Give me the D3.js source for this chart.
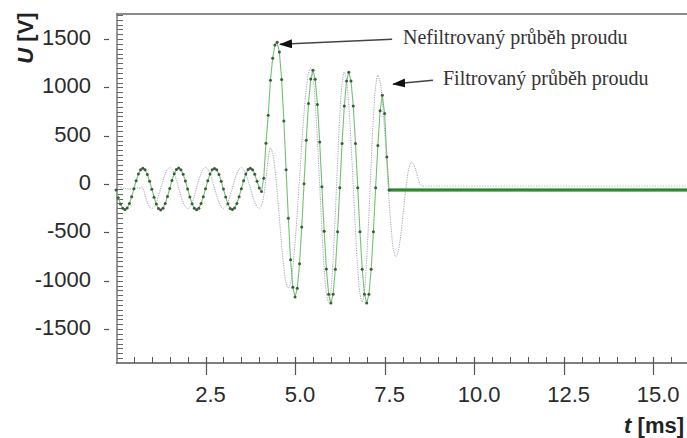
<!DOCTYPE html>
<html>
<head>
<meta charset="utf-8">
<script src="https://cdn.jsdelivr.net/npm/d3@7"></script>
<style>
body { margin: 0; background: #fff; }
svg { display: block; font-family: "Liberation Sans", Arial, sans-serif; }
</style>
</head>
<body>
<svg id="chart" width="687" height="438"></svg>
<script>
// sampling step of both records [ms]
var dt = 0.0625;

// unfiltered record (green, with sample markers), starts at t = 0
var unfiltered = [
  -60, -140, -205, -250, -262, -246, -200, -130, -48, 35, 104, 150, 165, 148, 100, 30,
  -52, -135, -205, -252, -268, -250, -200, -128, -45, 38, 108, 152, 166, 150, 103, 33,
  -50, -133, -203, -250, -264, -248, -201, -130, -48, 34, 104, 150, 163, 148, 101, 31,
  -51, -134, -204, -251, -262, -247, -200, -131, -47, 36, 105, 151, 164, 149, 102, 30,
  -40, -75, 62, 424, 713, 1074, 1302, 1440, 1467,
  1367, 1082, 653, 150, -353, -782, -1067, -1167,
  -1078, -824, -444, 5, 454, 834, 1088, 1178,
  1086, 825, 435, -26, -487, -877, -1138, -1230,
  -1139, -880, -493, -36, 421, 808, 1067, 1158,
  1067, 808, 421, -36, -493, -880, -1139, -1230,
  -1139, -880, -493, -36, 400, 760, 920, 730, 280, -60
];
// flat level after the breaker opened, held until the end of the record
var unfilteredTail = [-60, -60];

// filtered record (grey dotted), same time step
var filtered = [
  -10, -20, -30, -40, -45, -50, -50, -50, -45, -40, -40, -40, -40, -120, -188, -234,
  -250, -234, -188, -120, -40, 40, 108, 154, 170, 154, 108, 40, -40, -120, -188, -234,
  -252, -236, -190, -121, -40, 42, 110, 156, 172, 155, 108, 40, -41, -121, -189, -235,
  -250, -233, -187, -119, -39, 41, 109, 155, 171, 154, 107, 39, -40, -120, -188, -234,
  -250, -220, -120, 60, 260, 372, 317, 161, -75, -352, -628, -864, -1020, -1075,
  -1020, -859, -606, -290, 63, 415, 731, 984, 1145, 1200,
  1108, 847, 452, -10, -472, -867, -1128, -1220,
  -1101, -773, -294, 234, 713, 1041, 1160,
  1070, 813, 425, -30, -485, -873, -1130, -1220,
  -1103, -779, -307, 213, 685, 1009, 1126,
  1055, 852, 546, 188, -170, -476, -679, -750,
  -701, -566, -370, -153, 43, 178, 227,
  203, 138, 59, -6, -20
];
var filteredTail = [-20, -20];
var recordEnd = 16;

var yTicks = [-1500, -1000, -500, 0, 500, 1000, 1500];
var yTickLabels = ["-1500", "-1000", "-500", "0", "500", "1000", "1500"];
var xTicks = [2.5, 5.0, 7.5, 10.0, 12.5, 15.0];
var xTickLabels = ["2.5", "5.0", "7.5", "10.0", "12.5", "15.0"];
var notes = ["Nefiltrovaný průběh proudu", "Filtrovaný průběh proudu"];

function drawChart() {
    var svg = d3.select("#chart");

    var plotLeft = 116, plotRight = 689, plotTop = 14, plotBottom = 363;

    var x = d3.scaleLinear().domain([0, 16]).range([plotLeft, plotRight]);
    var y = d3.scaleLinear().domain([-1850, 1760]).range([plotBottom, plotTop]);

    // frame: top line, left axis, bottom axis
    svg.append("line").attr("x1", plotLeft).attr("x2", 687).attr("y1", plotTop).attr("y2", plotTop)
        .style("stroke", "#8c8c8c").style("stroke-width", 2);
    svg.append("line").attr("x1", plotLeft + 1).attr("x2", plotLeft + 1).attr("y1", plotTop).attr("y2", plotBottom)
        .style("stroke", "#777").style("stroke-width", 1.5);
    svg.append("line").attr("x1", plotLeft).attr("x2", 687).attr("y1", plotBottom).attr("y2", plotBottom)
        .style("stroke", "#555").style("stroke-width", 1.5);

    // y minor ticks, pointing inside
    var yMinor = d3.range(-1800, 1751, 50);
    svg.append("g").selectAll("line").data(yMinor).enter().append("line")
        .attr("x1", plotLeft + 1).attr("x2", plotLeft + 7)
        .attr("y1", function(d) { return Math.round(y(d)) + 0.5; })
        .attr("y2", function(d) { return Math.round(y(d)) + 0.5; })
        .style("stroke", "#666").style("stroke-width", 1);

    // y major ticks sit a bit off the axis, with labels
    svg.append("g").selectAll("line").data(yTicks).enter().append("line")
        .attr("x1", 104).attr("x2", 109)
        .attr("y1", function(d) { return Math.round(y(d)) + 0.5; })
        .attr("y2", function(d) { return Math.round(y(d)) + 0.5; })
        .style("stroke", "#555").style("stroke-width", 1.2);
    svg.append("g").selectAll("text").data(yTicks).enter().append("text")
        .text(function(d, i) { return yTickLabels[i]; })
        .attr("x", 91)
        .attr("y", function(d) { return y(d) + 6; })
        .attr("text-anchor", "end")
        .style("font-size", "22px").style("fill", "#2a2a2a");

    // x minor ticks, pointing inside
    var xMinor = d3.range(0.5, 16, 0.5);
    svg.append("g").selectAll("line").data(xMinor).enter().append("line")
        .attr("x1", function(d) { return Math.round(x(d)) + 0.5; })
        .attr("x2", function(d) { return Math.round(x(d)) + 0.5; })
        .attr("y1", plotBottom - 6).attr("y2", plotBottom)
        .style("stroke", "#555").style("stroke-width", 1);
    // x major ticks cross the axis
    svg.append("g").selectAll("line").data(xTicks).enter().append("line")
        .attr("x1", function(d) { return Math.round(x(d)) + 0.5; })
        .attr("x2", function(d) { return Math.round(x(d)) + 0.5; })
        .attr("y1", plotBottom - 6).attr("y2", plotBottom + 12)
        .style("stroke", "#555").style("stroke-width", 1.2);
    svg.append("g").selectAll("text").data(xTicks).enter().append("text")
        .text(function(d, i) { return xTickLabels[i]; })
        .attr("x", function(d) { return x(d) + 5; })
        .attr("y", 402)
        .attr("text-anchor", "middle")
        .style("font-size", "22px").style("fill", "#2a2a2a");

    // axis titles
    var yt = svg.append("text")
        .attr("transform", "translate(33,38) rotate(-90)")
        .attr("text-anchor", "middle")
        .style("font-size", "22px").style("font-weight", "bold").style("fill", "#222");
    yt.append("tspan").text("U").style("font-style", "italic");
    yt.append("tspan").text(" [V]");

    var xt = svg.append("text")
        .attr("x", 684).attr("y", 433)
        .attr("text-anchor", "end")
        .style("font-size", "22px").style("font-weight", "bold").style("fill", "#222");
    xt.append("tspan").text("t").style("font-style", "italic");
    xt.append("tspan").text(" [ms]");

    // records
    var filtPts = filtered.map(function(v, i) { return {t: i * dt, v: v}; });
    var filtTailPts = [{t: (filtered.length - 1) * dt, v: filteredTail[0]}, {t: recordEnd, v: filteredTail[1]}];
    var rawPts = unfiltered.map(function(v, i) { return {t: i * dt, v: v}; });
    var rawTailPts = [{t: (unfiltered.length - 1) * dt, v: unfilteredTail[0]}, {t: recordEnd, v: unfilteredTail[1]}];

    var line = d3.line()
        .x(function(d) { return x(d.t); })
        .y(function(d) { return y(d.v); });
    var smooth = d3.line()
        .x(function(d) { return x(d.t); })
        .y(function(d) { return y(d.v); })
        .curve(d3.curveCatmullRom);

    svg.append("path").datum(filtPts).attr("d", smooth)
        .style("fill", "none").style("stroke", "#a4a4bc").style("stroke-width", 1)
        .style("stroke-dasharray", "1.2,1.2");
    svg.append("path").datum(filtTailPts).attr("d", line)
        .style("fill", "none").style("stroke", "#b4b4c8").style("stroke-width", 1)
        .style("stroke-dasharray", "1.2,1.5");

    svg.append("path").datum(rawTailPts).attr("d", line)
        .style("fill", "none").style("stroke", "#45a845").style("stroke-width", 3.5);
    svg.append("path").datum(rawTailPts).attr("d", line)
        .style("fill", "none").style("stroke", "#2f6a2f").style("stroke-width", 1.2);

    svg.append("path").datum(rawPts).attr("d", line)
        .style("fill", "none").style("stroke", "#72c272").style("stroke-width", 1.1);
    svg.append("g").selectAll("circle").data(rawPts).enter().append("circle")
        .attr("cx", function(d) { return x(d.t); })
        .attr("cy", function(d) { return y(d.v); })
        .attr("r", 1.5)
        .style("fill", "#3d5a3d");

    // annotations with arrows
    svg.append("defs").append("marker")
        .attr("id", "head")
        .attr("markerUnits", "userSpaceOnUse")
        .attr("markerWidth", 13).attr("markerHeight", 9)
        .attr("refX", 12).attr("refY", 4.5)
        .attr("orient", "auto")
        .append("path").attr("d", "M0,0 L13,4.5 L0,9 Z").style("fill", "#111");

    var arrows = [
      {from: [7.71, 1498], to: [4.58, 1446]},
      {from: [8.85, 1074], to: [7.74, 1035]}
    ];
    svg.append("g").selectAll("line").data(arrows).enter().append("line")
        .attr("x1", function(d) { return x(d.from[0]); })
        .attr("y1", function(d) { return y(d.from[1]); })
        .attr("x2", function(d) { return x(d.to[0]); })
        .attr("y2", function(d) { return y(d.to[1]); })
        .attr("marker-end", "url(#head)")
        .style("stroke", "#444").style("stroke-width", 1.5);

    svg.append("text").text(notes[0])
        .attr("x", 403).attr("y", 44)
        .style("font-family", "'Liberation Serif', 'Times New Roman', serif")
        .style("font-size", "20px").style("fill", "#333");
    svg.append("text").text(notes[1])
        .attr("x", 443).attr("y", 85)
        .style("font-family", "'Liberation Serif', 'Times New Roman', serif")
        .style("font-size", "20px").style("fill", "#333");
}

drawChart();
</script>
</body>
</html>
